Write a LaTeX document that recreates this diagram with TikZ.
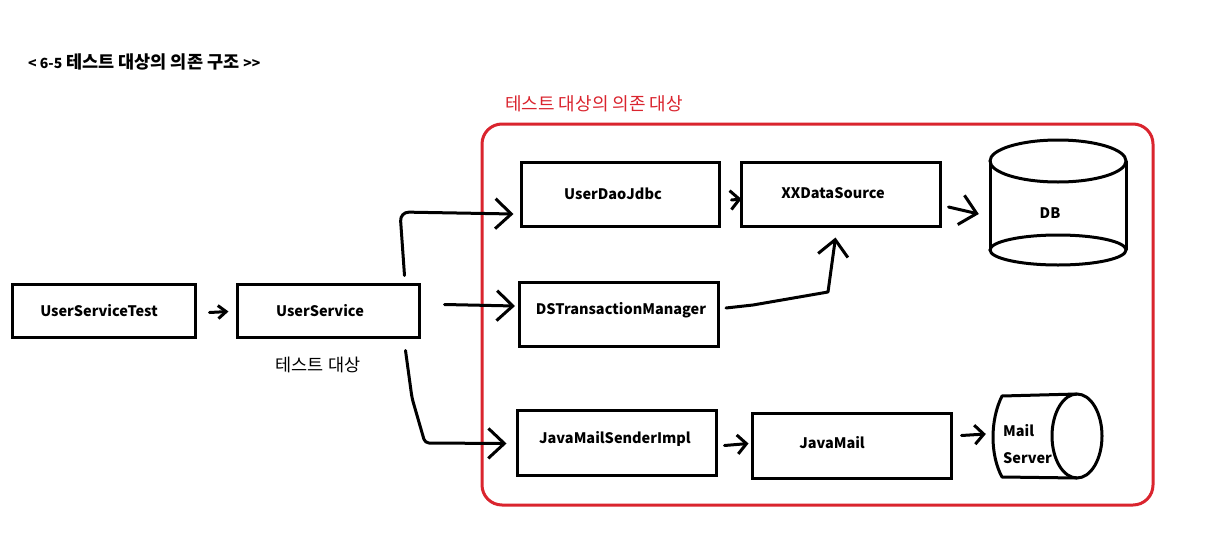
\documentclass[tikz,border=0pt]{standalone}
\usepackage{fontspec}
\setmainfont{Noto Sans CJK KR}
\usetikzlibrary{arrows.meta,calc}
\definecolor{grpred}{RGB}{218,36,46}
\tikzset{
  box/.style={draw, line width=3pt, inner sep=0pt},
  lbl/.style={font=\fontsize{14.5}{16}\selectfont\bfseries, inner sep=0pt},
  conn/.style={line width=3pt, line cap=round, line join=round},
  headS/.style={-{Straight Barb[length=8pt,width=13pt]}},
  headM/.style={-{Straight Barb[length=9pt,width=19pt]}},
  headL/.style={-{Straight Barb[length=16pt,width=30pt]}},
}
\begin{document}
\begin{tikzpicture}[x=1pt,y=-1pt]
\useasboundingbox (0,0) rectangle (1207,546);
\fill[white] (0,0) rectangle (1207,546);

% titles
\node[anchor=west, inner sep=0pt, font=\fontsize{17.5}{19}\selectfont\bfseries] (title) at (28,62) {{\fontsize{14}{16}\selectfont< 6-5} 테스트 대상의 의존 구조 {\fontsize{14}{16}\selectfont{>}{>}}};
\node[anchor=west, inner sep=0pt, text=grpred, font=\fontsize{18}{20}\selectfont] (grptitle) at (505,104) {테스트 대상의 의존 대상};

% group frame
\node[draw=grpred, line width=3pt, rounded corners=20pt, minimum width=671pt, minimum height=381pt, inner sep=0pt] (grp) at (817.5,314.5) {};

% boxes
\node[box, minimum width=183pt, minimum height=53pt] (ust) at (103.5,310.5) {};
\node[box, minimum width=182pt, minimum height=53pt] (us) at (328,310.5) {};
\node[box, minimum width=198pt, minimum height=64pt] (dao) at (620,194) {};
\node[box, minimum width=199pt, minimum height=64pt] (xds) at (840.5,194) {};
\node[box, minimum width=199pt, minimum height=64pt] (dstm) at (619,314) {};
\node[box, minimum width=199pt, minimum height=65pt] (jmsi) at (616.5,442.5) {};
\node[box, minimum width=199pt, minimum height=65pt] (jm) at (851.5,445.5) {};

% labels
\node[lbl] (tust) at (99,311) {UserServiceTest};
\node[lbl] (tus) at (320,311) {UserService};
\node[lbl] (tdao) at (613,194) {UserDaoJdbc};
\node[lbl] (txds) at (833,193) {XXDataSource};
\node[lbl] (tdstm) at (621,310) {DSTransactionManager};
\node[lbl] (tjmsi) at (615,439) {JavaMailSenderImpl};
\node[lbl] (tjm) at (832,443) {JavaMail};
\node[inner sep=0pt, font=\fontsize{17.5}{19}\selectfont] (tsub) at (318,365) {테스트 대상};

% DB cylinder
\node[minimum width=136pt, minimum height=110pt, inner sep=0pt] (db) at (1058,205) {};
\node[lbl] (tdb) at (1050,213) {DB};
\draw[line width=3pt] (990,161) -- (990,250) (1126,161) -- (1126,250);
\draw[line width=3pt] (1058,161) ellipse [x radius=68pt, y radius=21pt];
\draw[line width=3pt] (1058,250) ellipse [x radius=68pt, y radius=15pt];

% Mail server
\node[minimum width=110pt, minimum height=84pt, inner sep=0pt] (ms) at (1045,436) {};
\draw[line width=3pt, line join=round] (1077,394) -- (1002,396) .. controls (990,420) and (990,455) .. (1002,477) -- (1077,478);
\draw[line width=3pt] (1077,436) ellipse [x radius=25pt, y radius=42pt];
\node[anchor=north west, align=left, inner sep=0pt, font=\fontsize{14.5}{27}\selectfont\bfseries] (tms) at (1003,424) {Mail\\Server};

% connectors
\draw[conn, headS] ($(ust.east)+(13,2)$) -- ($(us.west)+(-7,1)$);
\draw[conn, headL, rounded corners=9pt] ($(us.north east)+(-16,-7)$) -- (400,212) -- ($(dao.west)+(-6,20)$);
\draw[conn, headL] ($(us.east)+(24,-6)$) -- ($(dstm.west)+(-3,-8)$);
\draw[conn, headL, rounded corners=4pt] ($(us.south east)+(-15,12)$) -- (412,398) -- (425,443) -- ($(jmsi.west)+(-9,1)$);
\draw[conn, headM] ($(dao.east)+(11,6)$) -- ($(xds.west)+(2,5)$);
\draw[conn, headL] ($(dstm.east)+(6,-6)$) -- (753,305) -- (828,292) -- ($(xds.south)+(-5,10)$);
\draw[conn, headL] ($(xds.east)+(7,13)$) -- ($(db.west)+(-11,9)$);
\draw[conn, headM] ($(jmsi.east)+(7,3)$) -- ($(jm.west)+(-2,-2)$);
\draw[conn, headM] ($(jm.east)+(9,-10)$) -- ($(ms.west)+(-4,-2)$);
\end{tikzpicture}
\end{document}
